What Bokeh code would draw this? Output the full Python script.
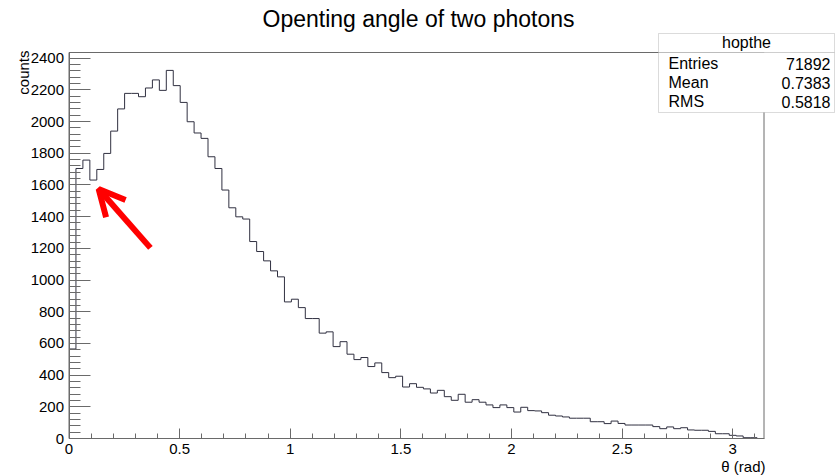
import numpy as np
from bokeh.plotting import figure
from bokeh.models import Range1d, Label, BoxAnnotation, Arrow, OpenHead, FixedTicker
from bokeh.embed import file_html
from bokeh.resources import INLINE

# ---------------- data ----------------
title_text = "Openting angle of two photons"
x_label = "θ (rad)"
y_label = "counts"
hist_name = "hopthe"
stat_names = ["Entries", "Mean", "RMS"]
stat_values = ["71892", "0.7383", "0.5818"]

x_min, x_max, n_bins = 0.0, 3.1416, 100
counts = [565, 1704, 1757, 1631, 1698, 1799, 1940, 2080, 2178, 2178,
          2157, 2212, 2263, 2197, 2323, 2227, 2121, 1999, 1928, 1894,
          1778, 1704, 1568, 1456, 1399, 1385, 1243, 1180, 1121, 1058,
          1020, 862, 879, 826, 757, 757, 665, 673, 580, 611,
          532, 498, 511, 454, 477, 416, 384, 393, 325, 346,
          323, 313, 287, 304, 264, 241, 279, 229, 245, 229,
          212, 195, 212, 195, 167, 197, 176, 174, 163, 147,
          142, 136, 128, 128, 128, 106, 106, 94, 110, 95,
          85, 85, 85, 85, 75, 62, 73, 62, 68, 54,
          52, 52, 45, 30, 30, 20, 16, 5, 5, 0]

x_ticks = [0, 0.5, 1, 1.5, 2, 2.5, 3]
x_tick_labels = ["0", "0.5", "1", "1.5", "2", "2.5", "3"]
x_minor = [round(0.1 * i, 1) for i in range(32)]
y_ticks = [0, 200, 400, 600, 800, 1000, 1200, 1400, 1600, 1800, 2000, 2200, 2400]
y_minor = list(range(0, 2440, 40))
y_max = 2436

arrow_tail = (0.368, 1203)
arrow_tip = (0.134, 1574)

# ---------------- layout (pixels) ----------------
W, H = 836, 476
FL, FR, FT, FB = 68.5, 763.5, 52.0, 438.0   # axes box in canvas pixels
sx = (FR - FL) / (x_max - x_min)
sy = (FB - FT) / (y_max - 0)
xr = Range1d(x_min - FL / sx, x_max + (W - FR) / sx)
yr = Range1d(0 - (H - FB) / sy, y_max + FT / sy)

FONT = "Liberation Sans"
AX = "#6a6a6a"

p = figure(width=W, height=H, output_backend="svg", toolbar_location=None,
           x_range=xr, y_range=yr,
           min_border_left=0, min_border_right=0, min_border_top=0,
           min_border_bottom=0)
p.xgrid.visible = False
p.ygrid.visible = False
p.outline_line_color = None
p.background_fill_color = "white"
p.border_fill_color = "white"

p.xaxis.fixed_location = 0
p.yaxis.fixed_location = x_min
p.xaxis.bounds = (x_min, x_max)
p.yaxis.bounds = (0, y_max)
p.xaxis.ticker = FixedTicker(ticks=x_ticks, minor_ticks=x_minor)
p.xaxis.major_label_overrides = {t: l for t, l in zip(x_ticks, x_tick_labels)}
p.yaxis.ticker = FixedTicker(ticks=y_ticks, minor_ticks=y_minor)

for ax in (p.xaxis[0], p.yaxis[0]):
    ax.axis_line_color = AX
    ax.major_tick_line_color = AX
    ax.minor_tick_line_color = AX
    ax.major_tick_out = 0
    ax.minor_tick_out = 0
    ax.major_label_text_font = FONT
    ax.major_label_text_font_size = "15px"
    ax.major_label_text_color = "black"
    ax.major_label_standoff = 5

p.xaxis.major_tick_in = 10
p.xaxis.minor_tick_in = 5
p.yaxis.major_tick_in = 21
p.yaxis.minor_tick_in = 11

# frame box (top / right edges of the axes area)
p.quad(left=[x_min], right=[x_max], bottom=[0], top=[y_max],
       fill_alpha=0, line_color=AX, line_width=1)

edges = np.linspace(x_min, x_max, n_bins + 1)
ys = counts + [counts[-1]]
p.step(edges, ys, mode="after", line_color="#303040", line_width=1)

p.add_layout(Arrow(end=OpenHead(size=26, line_color="#ff0000", line_width=6),
                   x_start=arrow_tail[0], y_start=arrow_tail[1],
                   x_end=arrow_tip[0], y_end=arrow_tip[1],
                   line_color="#ff0000", line_width=6))

# title and axis titles (screen units: origin bottom-left)
p.add_layout(Label(x=418, y=H - 18, x_units="screen", y_units="screen",
                   text=title_text, text_align="center", text_baseline="middle",
                   text_font=FONT, text_font_size="23px", text_color="black"))
p.add_layout(Label(x=23, y=H - 50, x_units="screen", y_units="screen",
                   text=y_label, angle=90, angle_units="deg",
                   text_align="right", text_baseline="middle",
                   text_font=FONT, text_font_size="15px", text_color="black"))
p.add_layout(Label(x=765, y=H - 466, x_units="screen", y_units="screen",
                   text=x_label, text_align="right", text_baseline="middle",
                   text_font=FONT, text_font_size="15px", text_color="black"))

# stats box
p.add_layout(BoxAnnotation(left=658, right=834, top=H - 33, bottom=H - 52,
                           left_units="screen", right_units="screen",
                           top_units="screen", bottom_units="screen",
                           fill_color="white", fill_alpha=1,
                           line_color="#888888", line_width=1))
p.add_layout(BoxAnnotation(left=658, right=834, top=H - 52, bottom=H - 112,
                           left_units="screen", right_units="screen",
                           top_units="screen", bottom_units="screen",
                           fill_color="white", fill_alpha=1,
                           line_color="#888888", line_width=1))
p.add_layout(Label(x=746, y=H - 42, x_units="screen", y_units="screen",
                   text=hist_name, text_align="center", text_baseline="middle",
                   text_font=FONT, text_font_size="16px", text_color="black"))
for i, (n, v) in enumerate(zip(stat_names, stat_values)):
    yy = H - (63 + 19 * i)
    p.add_layout(Label(x=668, y=yy, x_units="screen", y_units="screen",
                       text=n, text_align="left", text_baseline="middle",
                       text_font=FONT, text_font_size="16px", text_color="black"))
    p.add_layout(Label(x=830, y=yy, x_units="screen", y_units="screen",
                       text=v, text_align="right", text_baseline="middle",
                       text_font=FONT, text_font_size="16px", text_color="black"))

open("out.html", "w").write(file_html(p, INLINE))
